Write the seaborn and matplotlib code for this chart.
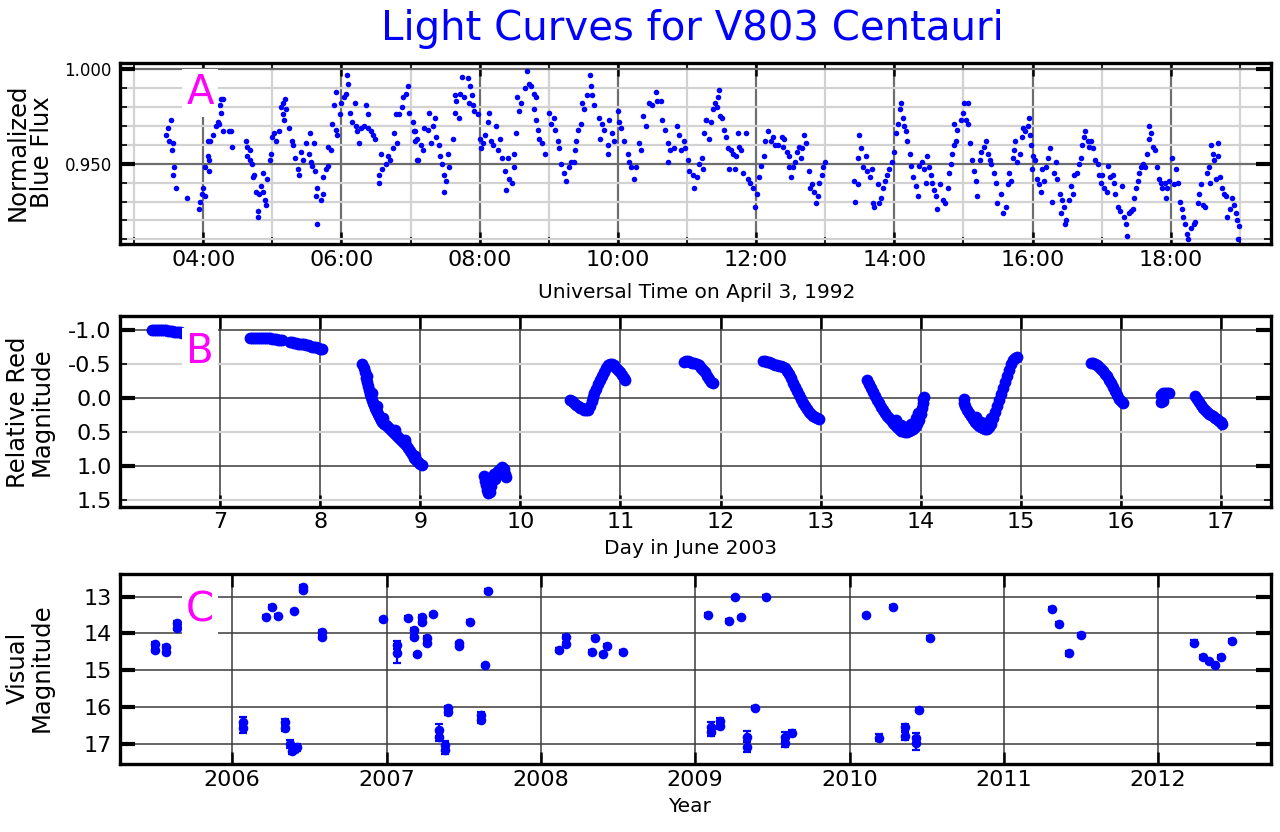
import matplotlib
matplotlib.use("Agg")
import matplotlib.pyplot as plt
from matplotlib.ticker import MultipleLocator, FixedLocator, FuncFormatter, FormatStrFormatter
import pandas as pd
import seaborn as sns

# ---------------- data ----------------
# A: normalized blue flux vs universal time (hours) on April 3, 1992
blue_hours = [
    3.535, 3.487, 3.46, 3.51, 3.56, 3.545, 3.58, 3.57, 3.60, 3.77, 3.935, 3.96, 3.98, 3.99, 4.02, 4.03,
    4.065, 4.09, 4.09, 4.065, 4.10, 4.14, 4.19, 4.21, 4.16, 4.24, 4.26, 4.29, 4.26, 4.23, 4.29, 4.37,
    4.40, 4.41, 4.62, 4.64, 4.67, 4.64, 4.68, 4.71, 4.74, 4.72, 4.76, 4.80, 4.79, 4.79, 4.84, 4.86,
    4.87, 4.89, 4.91, 4.92, 4.96, 4.98, 5.00, 5.03, 5.05, 5.10, 5.12, 5.15, 5.19, 5.16, 5.17, 5.20,
    5.24, 5.28, 5.30, 5.33, 5.37, 5.39, 5.41, 5.44, 5.49, 5.54, 5.53, 5.56, 5.58, 5.61, 5.62, 5.63,
    5.65, 5.64, 5.70, 5.73, 5.74, 5.77, 5.80, 5.81, 5.85, 5.87, 5.92, 5.94, 5.89, 5.92, 5.98, 6.00,
    6.03, 6.07, 6.09, 6.08, 6.12, 6.15, 6.19, 6.21, 6.23, 6.26, 6.28, 6.33, 6.36, 6.38, 6.39, 6.43,
    6.45, 6.49, 6.57, 6.54, 6.55, 6.59, 6.64, 6.67, 6.70, 6.74, 6.76, 6.79, 6.81, 6.83, 6.88, 6.89,
    6.96, 6.93, 6.98, 7.03, 7.05, 7.07, 7.09,
    7.06, 7.09, 7.11, 7.15, 7.18, 7.20, 7.25, 7.26, 7.30, 7.32, 7.35, 7.37, 7.41, 7.43, 7.45, 7.48,
    7.51, 7.48, 7.54, 7.56, 7.61, 7.64, 7.66, 7.64, 7.70, 7.71, 7.75, 7.78, 7.83, 7.84, 7.86, 7.89,
    7.91, 7.92, 7.97, 8.01, 8.02, 8.05, 8.08, 8.12, 8.13, 8.16, 8.20, 8.23, 8.26, 8.30, 8.33, 8.37,
    8.41, 8.38, 8.43, 8.47, 8.50, 8.50, 8.52, 8.54, 8.57, 8.60, 8.65, 8.69, 8.71, 8.74, 8.78, 8.81,
    8.79, 8.82, 8.84, 8.86, 8.90, 8.94, 9.01, 9.03, 9.07, 9.09, 9.13, 9.15, 9.18, 9.22, 9.25, 9.29,
    9.32, 9.36, 9.38, 9.39, 9.42, 9.46, 9.48, 9.51, 9.55, 9.59, 9.61, 9.63, 9.66, 9.73, 9.74, 9.77,
    9.80, 9.85, 9.85, 9.87, 9.92, 9.95, 10.00, 10.01, 10.05, 10.09, 10.14, 10.16, 10.19, 10.24, 10.26, 10.30,
    10.33, 10.36, 10.40, 10.45, 10.50, 10.55, 10.57, 10.62, 10.64, 10.68, 10.72, 10.72, 10.76, 10.81, 10.86, 10.89,
    10.91, 10.96, 10.97, 11.01, 11.03, 11.08, 11.10, 11.14, 11.17, 11.22, 11.25, 11.27,
    11.23, 11.28, 11.32, 11.35, 11.37, 11.40, 11.43, 11.45, 11.46, 11.48, 11.51, 11.53, 11.56, 11.59, 11.61, 11.64,
    11.66, 11.69, 11.71, 11.74, 11.75, 11.78, 11.81, 11.85, 11.88, 11.91, 11.95, 11.98, 12.01, 12.04, 12.07, 12.11,
    12.13, 12.17, 12.22, 12.24, 12.27, 12.31, 12.38, 12.39, 12.41, 12.44, 12.48, 12.47, 12.51, 12.53, 12.56, 12.59,
    12.62, 12.65, 12.67, 12.70, 12.72, 12.76, 12.78, 12.81, 12.84, 12.87, 12.89, 12.91, 12.95, 12.97, 12.99,
    13.42, 13.43, 13.47, 13.48, 13.49, 13.52, 13.54, 13.59, 13.61, 13.65, 13.68, 13.69, 13.71, 13.76, 13.78, 13.81,
    13.83, 13.86, 13.89, 13.93, 13.97, 14.00, 14.02, 14.06, 14.08, 14.09, 14.12, 14.14, 14.17, 14.19, 14.22, 14.24,
    14.27, 14.31, 14.34, 14.36, 14.40, 14.43, 14.46, 14.47, 14.50, 14.53, 14.55, 14.58, 14.60, 14.62, 14.66, 14.70,
    14.73, 14.77, 14.79, 14.82, 14.83, 14.86, 14.89, 14.86, 14.91, 14.96, 14.99, 15.01, 15.06, 15.04, 15.07, 15.10,
    15.13, 15.15, 15.18, 15.20, 15.24, 15.26, 15.30, 15.32, 15.35, 15.38, 15.40, 15.44, 15.47, 15.49,
    15.54, 15.57, 15.61, 15.64, 15.66, 15.69, 15.71, 15.73, 15.75, 15.78, 15.82, 15.85, 15.86, 15.89, 15.93, 15.95,
    15.97, 15.98, 16.00, 15.99, 16.04, 16.07, 16.10, 16.12, 16.14, 16.17, 16.20, 16.23, 16.25, 16.28, 16.31, 16.34,
    16.36, 16.39, 16.41, 16.43, 16.46, 16.47, 16.49, 16.52, 16.55, 16.58, 16.60, 16.64, 16.67, 16.70, 16.72, 16.75,
    16.76, 16.80, 16.82, 16.84, 16.88, 16.91, 16.94, 16.96, 16.99, 17.00, 17.04, 17.07, 17.09, 17.12, 17.16, 17.18,
    17.20, 17.23, 17.26, 17.29, 17.33, 17.35, 17.36, 17.40, 17.42, 17.45, 17.47, 17.50, 17.52, 17.54, 17.57, 17.60,
    17.63, 17.65, 17.68, 17.69, 17.72, 17.74, 17.77, 17.80, 17.83, 17.86, 17.88, 17.91, 17.93, 17.95, 17.98, 18.02,
    18.05, 18.08, 18.11, 18.13, 18.16, 18.18, 18.21, 18.23, 18.25, 18.29, 18.33, 18.35, 18.39, 18.41, 18.44, 18.46,
    18.50, 18.52, 18.55, 18.57, 18.58, 18.61, 18.63, 18.65, 18.68, 18.69, 18.71, 18.74, 18.77, 18.80, 18.82, 18.86,
    18.89, 18.91, 18.94, 18.96, 18.99, 18.97,
]
blue_flux = [
    0.973, 0.969, 0.965, 0.962, 0.961, 0.957, 0.948, 0.944, 0.937, 0.932, 0.926, 0.930, 0.934, 0.937, 0.933, 0.948,
    0.954, 0.952, 0.946, 0.962, 0.962, 0.965, 0.970, 0.972, 0.977, 0.981, 0.984, 0.984, 0.977, 0.971, 0.967, 0.967,
    0.967, 0.959, 0.962, 0.959, 0.957, 0.954, 0.952, 0.950, 0.944, 0.943, 0.935, 0.934, 0.925, 0.922, 0.938, 0.945,
    0.935, 0.931, 0.928, 0.942, 0.952, 0.955, 0.964, 0.966, 0.962, 0.967, 0.980, 0.982, 0.984, 0.976, 0.973, 0.979,
    0.969, 0.962, 0.960, 0.953, 0.947, 0.944, 0.956, 0.952, 0.961, 0.966, 0.955, 0.951, 0.949, 0.961, 0.946, 0.933,
    0.937, 0.918, 0.931, 0.934, 0.943, 0.947, 0.949, 0.959, 0.957, 0.971, 0.968, 0.965, 0.981, 0.988, 0.976, 0.982,
    0.985, 0.987, 0.992, 0.997, 0.977, 0.972, 0.982, 0.970, 0.967, 0.961, 0.969, 0.970, 0.981, 0.976, 0.969, 0.967,
    0.965, 0.963, 0.955, 0.944, 0.940, 0.947, 0.950, 0.954, 0.952, 0.958, 0.966, 0.976, 0.961, 0.976, 0.980, 0.985,
    0.991, 0.987, 0.977, 0.972, 0.967, 0.962, 0.952,
    0.967, 0.963, 0.952, 0.960, 0.957, 0.969, 0.968, 0.977, 0.961, 0.970, 0.974, 0.964, 0.960, 0.954, 0.950, 0.944,
    0.941, 0.935, 0.955, 0.948, 0.963, 0.986, 0.983, 0.977, 0.974, 0.987, 0.996, 0.985, 0.995, 0.982, 0.991, 0.986,
    0.981, 0.978, 0.976, 0.963, 0.958, 0.961, 0.965, 0.972, 0.977, 0.962, 0.960, 0.970, 0.957, 0.963, 0.953, 0.946,
    0.953, 0.936, 0.942, 0.940, 0.948, 0.955, 0.966, 0.985, 0.978, 0.982, 0.990, 0.999, 0.992, 0.991, 0.987, 0.985,
    0.979, 0.973, 0.968, 0.963, 0.961, 0.955, 0.977, 0.971, 0.974, 0.968, 0.962, 0.958, 0.950, 0.945, 0.941, 0.948,
    0.951, 0.951, 0.957, 0.962, 0.968, 0.971, 0.982, 0.979, 0.986, 0.997, 0.991, 0.986, 0.981, 0.974, 0.963, 0.971,
    0.968, 0.960, 0.955, 0.973, 0.966, 0.962, 0.978, 0.972, 0.969, 0.962, 0.955, 0.951, 0.948, 0.942, 0.948, 0.961,
    0.957, 0.975, 0.970, 0.982, 0.981, 0.988, 0.983, 0.983, 0.973, 0.968, 0.961, 0.951, 0.957, 0.958, 0.970, 0.965,
    0.957, 0.962, 0.958, 0.952, 0.946, 0.944, 0.937, 0.943, 0.950, 0.953, 0.966, 0.973,
    0.947, 0.973, 0.963, 0.972, 0.979, 0.982, 0.980, 0.985, 0.989, 0.975, 0.974, 0.968, 0.964, 0.958, 0.947, 0.957,
    0.955, 0.947, 0.954, 0.966, 0.959, 0.957, 0.945, 0.966, 0.942, 0.940, 0.937, 0.927, 0.934, 0.943, 0.949, 0.954,
    0.962, 0.967, 0.962, 0.964, 0.960, 0.960, 0.964, 0.959, 0.963, 0.956, 0.954, 0.948, 0.943, 0.948, 0.951, 0.956,
    0.959, 0.953, 0.958, 0.965, 0.961, 0.946, 0.937, 0.939, 0.935, 0.929, 0.933, 0.940, 0.944, 0.948, 0.951,
    0.941, 0.930, 0.939, 0.953, 0.965, 0.958, 0.948, 0.954, 0.946, 0.943, 0.947, 0.929, 0.927, 0.939, 0.929, 0.932,
    0.937, 0.941, 0.944, 0.947, 0.951, 0.956, 0.966, 0.971, 0.979, 0.982, 0.974, 0.970, 0.967, 0.962, 0.955, 0.949,
    0.943, 0.938, 0.933, 0.949, 0.951, 0.947, 0.940, 0.954, 0.948, 0.944, 0.940, 0.936, 0.933, 0.926, 0.939, 0.931,
    0.929, 0.937, 0.945, 0.950, 0.955, 0.960, 0.962, 0.971, 0.968, 0.973, 0.977, 0.982, 0.982, 0.973, 0.971, 0.961,
    0.952, 0.946, 0.941, 0.933, 0.952, 0.956, 0.959, 0.962, 0.955, 0.952, 0.950, 0.945, 0.940, 0.929,
    0.934, 0.924, 0.927, 0.939, 0.945, 0.941, 0.953, 0.957, 0.962, 0.951, 0.955, 0.964, 0.969, 0.967, 0.970, 0.974,
    0.965, 0.960, 0.954, 0.947, 0.952, 0.942, 0.939, 0.935, 0.947, 0.941, 0.948, 0.953, 0.958, 0.930, 0.945, 0.951,
    0.942, 0.934, 0.924, 0.931, 0.927, 0.918, 0.920, 0.931, 0.938, 0.934, 0.944, 0.945, 0.950, 0.953, 0.960, 0.964,
    0.967, 0.962, 0.959, 0.962, 0.958, 0.952, 0.950, 0.944, 0.940, 0.944, 0.937, 0.935, 0.949, 0.943, 0.944, 0.940,
    0.934, 0.927, 0.925, 0.938, 0.922, 0.918, 0.912, 0.924, 0.925, 0.926, 0.932, 0.937, 0.941, 0.945, 0.948, 0.950,
    0.948, 0.955, 0.963, 0.970, 0.966, 0.959, 0.957, 0.948, 0.942, 0.940, 0.937, 0.940, 0.932, 0.937, 0.941, 0.953,
    0.939, 0.947, 0.940, 0.930, 0.926, 0.922, 0.918, 0.913, 0.910, 0.916, 0.918, 0.919, 0.929, 0.934, 0.939, 0.928,
    0.927, 0.945, 0.948, 0.940, 0.960, 0.955, 0.952, 0.942, 0.961, 0.954, 0.943, 0.937, 0.934, 0.933, 0.922, 0.926,
    0.932, 0.928, 0.924, 0.920, 0.917, 0.910,
]

# B: relative red magnitude vs day in June 2003
red_day = [
    6.32, 6.34, 6.36, 6.38, 6.40, 6.42, 6.44, 6.46, 6.48, 6.50, 6.52, 6.54, 6.56, 6.58, 6.60, 6.62,
    7.30, 7.32, 7.34, 7.36, 7.38, 7.40, 7.42, 7.44, 7.46, 7.48, 7.50, 7.52, 7.54, 7.56, 7.58, 7.60, 7.62,
    7.70, 7.72, 7.74, 7.76, 7.78, 7.80, 7.82, 7.84, 7.86, 7.88, 7.90, 7.92, 7.94, 7.96, 7.98, 8.00, 8.02,
    8.42, 8.44, 8.45, 8.46, 8.47, 8.48, 8.49, 8.50, 8.51, 8.52, 8.53, 8.54, 8.55, 8.56, 8.57, 8.58,
    8.59, 8.60, 8.61, 8.62, 8.64, 8.66, 8.68, 8.70, 8.72, 8.74, 8.76, 8.78, 8.80, 8.82, 8.84, 8.86,
    8.88, 8.90, 8.92, 8.94, 8.96, 8.98, 9.00, 9.02, 8.47, 8.52, 8.57, 8.63, 8.75, 8.85, 8.95,
    9.64, 9.65, 9.66, 9.67, 9.68, 9.70, 9.71, 9.72, 9.73, 9.74, 9.76, 9.78, 9.80, 9.82, 9.84, 9.85,
    9.86, 9.83, 9.75, 9.69,
    10.50, 10.52, 10.54, 10.56, 10.58, 10.60, 10.62, 10.64, 10.66, 10.68, 10.70, 10.72, 10.73, 10.74, 10.76, 10.78,
    10.80, 10.82, 10.84, 10.86, 10.88, 10.90, 10.92, 10.94, 10.96, 10.98, 11.00, 11.02, 11.04, 11.05,
    11.64, 11.66, 11.68, 11.70, 11.72, 11.74, 11.76, 11.78, 11.80, 11.82, 11.84, 11.86, 11.88, 11.90, 11.92,
    12.42, 12.44, 12.46, 12.48, 12.50, 12.52, 12.54, 12.56, 12.58, 12.60, 12.62, 12.64, 12.66, 12.68, 12.70, 12.72,
    12.74, 12.76, 12.78, 12.80, 12.82, 12.84, 12.86, 12.88, 12.90, 12.92, 12.94, 12.96, 12.98,
    13.46, 13.48, 13.50, 13.52, 13.54, 13.56, 13.58, 13.60, 13.62, 13.64, 13.66, 13.68, 13.70, 13.72, 13.74, 13.76,
    13.78, 13.80, 13.82, 13.84, 13.86, 13.88, 13.90, 13.92, 13.94, 13.96, 13.98, 14.00, 14.01, 14.02, 14.02, 14.03,
    13.80, 13.85, 13.90, 13.95, 13.75, 13.97,
    14.43, 14.43, 14.44, 14.46, 14.48, 14.50, 14.52, 14.54, 14.56, 14.58, 14.60, 14.62, 14.64, 14.66, 14.68, 14.70,
    14.72, 14.74, 14.76, 14.78, 14.80, 14.82, 14.84, 14.86, 14.88, 14.90, 14.92, 14.94, 14.96,
    14.60, 14.65, 14.55, 14.70,
    15.70, 15.72, 15.74, 15.76, 15.78, 15.80, 15.82, 15.84, 15.86, 15.88, 15.90, 15.92, 15.94, 15.96, 15.98, 16.00, 16.02,
    16.40, 16.42, 16.44, 16.46, 16.48, 16.40, 16.42,
    16.74, 16.76, 16.78, 16.80, 16.82, 16.84, 16.86, 16.88, 16.90, 16.92, 16.94, 16.96, 16.98, 17.00, 17.01,
]
red_mag = [
    -1.01, -1.01, -1.01, -1.01, -1.01, -1.00, -1.00, -1.00, -0.99, -0.99, -0.99, -0.98, -0.98, -0.97, -0.97, -0.96,
    -0.88, -0.88, -0.89, -0.89, -0.89, -0.89, -0.89, -0.89, -0.88, -0.88, -0.88, -0.87, -0.87, -0.87, -0.86, -0.86, -0.86,
    -0.82, -0.82, -0.81, -0.81, -0.80, -0.80, -0.79, -0.79, -0.78, -0.78, -0.77, -0.76, -0.76, -0.75, -0.74, -0.73, -0.72,
    -0.50, -0.45, -0.38, -0.30, -0.24, -0.18, -0.12, -0.06, -0.01, 0.03, 0.07, 0.11, 0.14, 0.17, 0.20, 0.23,
    0.26, 0.29, 0.32, 0.35, 0.38, 0.40, 0.42, 0.45, 0.48, 0.51, 0.54, 0.57, 0.60, 0.63, 0.66, 0.69,
    0.73, 0.78, 0.83, 0.88, 0.92, 0.95, 0.98, 0.99, -0.32, -0.08, 0.12, 0.30, 0.47, 0.62, 0.85,
    1.15, 1.22, 1.28, 1.35, 1.40, 1.38, 1.30, 1.22, 1.18, 1.12, 1.10, 1.08, 1.04, 1.02, 1.05, 1.12,
    1.17, 1.10, 1.20, 1.25,
    0.03, 0.05, 0.08, 0.10, 0.12, 0.14, 0.15, 0.17, 0.18, 0.17, 0.12, 0.05, -0.02, -0.08, -0.14, -0.20,
    -0.26, -0.32, -0.38, -0.44, -0.49, -0.50, -0.50, -0.48, -0.45, -0.42, -0.38, -0.34, -0.30, -0.27,
    -0.53, -0.54, -0.54, -0.53, -0.52, -0.51, -0.50, -0.48, -0.45, -0.42, -0.38, -0.33, -0.28, -0.24, -0.22,
    -0.54, -0.54, -0.53, -0.53, -0.52, -0.50, -0.49, -0.48, -0.47, -0.47, -0.46, -0.44, -0.40, -0.35, -0.29, -0.22,
    -0.16, -0.10, -0.04, 0.02, 0.07, 0.12, 0.16, 0.20, 0.23, 0.26, 0.28, 0.30, 0.31,
    -0.26, -0.21, -0.15, -0.09, -0.03, 0.03, 0.08, 0.13, 0.18, 0.22, 0.26, 0.30, 0.33, 0.37, 0.40, 0.43,
    0.46, 0.48, 0.49, 0.50, 0.50, 0.49, 0.47, 0.45, 0.42, 0.38, 0.32, 0.24, 0.15, 0.08, 0.02, -0.02,
    0.40, 0.42, 0.38, 0.30, 0.33, 0.22,
    0.02, 0.07, 0.12, 0.17, 0.22, 0.27, 0.31, 0.35, 0.38, 0.41, 0.43, 0.44, 0.45, 0.45, 0.43, 0.38,
    0.30, 0.21, 0.12, 0.03, -0.06, -0.15, -0.24, -0.33, -0.42, -0.50, -0.56, -0.59, -0.60,
    0.35, 0.37, 0.28, 0.30,
    -0.51, -0.51, -0.50, -0.48, -0.46, -0.43, -0.40, -0.36, -0.32, -0.27, -0.22, -0.16, -0.10, -0.04, 0.01, 0.05, 0.07,
    -0.05, -0.08, -0.08, -0.08, -0.07, 0.06, 0.04,
    -0.03, 0.02, 0.06, 0.10, 0.14, 0.17, 0.20, 0.23, 0.25, 0.27, 0.29, 0.31, 0.34, 0.36, 0.38,
]

# C: visual magnitude vs year, with uncertainties
vis_year = [
    2005.50, 2005.50, 2005.57, 2005.57, 2005.64, 2005.64, 2006.07, 2006.07, 2006.22, 2006.26, 2006.30,
    2006.34, 2006.34, 2006.375, 2006.39, 2006.41, 2006.42, 2006.40, 2006.46, 2006.46, 2006.58, 2006.58,
    2006.98, 2007.07, 2007.07, 2007.14, 2007.18, 2007.18, 2007.20, 2007.23, 2007.23, 2007.26, 2007.26,
    2007.30, 2007.34, 2007.34, 2007.38, 2007.38, 2007.40, 2007.40, 2007.47, 2007.47, 2007.54, 2007.61,
    2007.61, 2007.64, 2007.66, 2008.12, 2008.16, 2008.16, 2008.33, 2008.35, 2008.40, 2008.43, 2008.53,
    2009.08, 2009.10, 2009.10, 2009.16, 2009.16, 2009.22, 2009.26, 2009.30, 2009.335, 2009.335, 2009.39,
    2009.46, 2009.58, 2009.58, 2009.625, 2010.11, 2010.19, 2010.28, 2010.36, 2010.36, 2010.43, 2010.43,
    2010.45, 2010.52, 2011.31, 2011.355, 2011.42, 2011.50, 2012.23, 2012.29, 2012.33, 2012.37, 2012.41,
    2012.48,
]
vis_mag = [
    14.29, 14.45, 14.36, 14.49, 13.72, 13.84, 16.39, 16.57, 13.54, 13.29, 13.52,
    16.39, 16.57, 17.00, 17.18, 17.13, 17.09, 13.39, 12.73, 12.82, 13.95, 14.09,
    13.62, 14.31, 14.54, 13.57, 13.90, 14.09, 14.57, 13.54, 13.68, 14.13, 14.25,
    13.48, 16.62, 16.80, 17.03, 17.16, 16.03, 16.14, 14.27, 14.33, 13.68, 16.21,
    16.35, 14.86, 12.84, 14.45, 14.09, 14.29, 14.51, 14.11, 14.57, 14.33, 14.51,
    13.50, 16.53, 16.67, 16.38, 16.50, 13.66, 13.02, 13.56, 16.80, 17.07, 16.01,
    13.00, 16.80, 16.98, 16.71, 13.50, 16.83, 13.28, 16.55, 16.78, 16.85, 16.98,
    16.08, 14.13, 13.33, 13.75, 14.54, 14.04, 14.25, 14.63, 14.76, 14.86, 14.63,
    14.21,
]
vis_err = [
    0.06, 0.06, 0.06, 0.06, 0.06, 0.06, 0.12, 0.12, 0.05, 0.05, 0.05,
    0.08, 0.08, 0.12, 0.10, 0.10, 0.10, 0.04, 0.05, 0.05, 0.05, 0.05,
    0.05, 0.10, 0.25, 0.05, 0.05, 0.05, 0.05, 0.05, 0.05, 0.05, 0.05,
    0.04, 0.15, 0.12, 0.12, 0.12, 0.06, 0.06, 0.05, 0.05, 0.04, 0.08,
    0.08, 0.04, 0.05, 0.05, 0.06, 0.06, 0.05, 0.05, 0.05, 0.05, 0.05,
    0.05, 0.12, 0.10, 0.08, 0.08, 0.05, 0.04, 0.04, 0.15, 0.15, 0.05,
    0.05, 0.12, 0.10, 0.08, 0.04, 0.10, 0.04, 0.10, 0.10, 0.15, 0.18,
    0.06, 0.05, 0.04, 0.05, 0.06, 0.06, 0.06, 0.05, 0.05, 0.05, 0.05,
    0.06,
]

# ---------------- plotting ----------------
sns.set_theme(style="white")
plt.rcParams["font.family"] = ["DejaVu Sans"]
plt.rcParams["axes.unicode_minus"] = False
plt.rcParams["text.color"] = "black"
plt.rcParams["xtick.color"] = "black"
plt.rcParams["ytick.color"] = "black"
plt.rcParams["xtick.labelcolor"] = "black"
plt.rcParams["ytick.labelcolor"] = "black"

BLUE = "#0000ff"
DARK = "#6e6e6e"
LIGHT = "#d2d2d2"
TICK_FS = 16

fig = plt.figure(figsize=(12.8, 8.32), dpi=100)
ax_a = fig.add_axes([120 / 1280, 1 - 244.3 / 832, 1151 / 1280, 181.6 / 832])
ax_b = fig.add_axes([120 / 1280, 1 - 506.7 / 832, 1151 / 1280, 190.7 / 832])
ax_c = fig.add_axes([120 / 1280, 1 - 764 / 832, 1151 / 1280, 189.7 / 832])


def frame(ax):
    for sp in ax.spines.values():
        sp.set_linewidth(2.4)
        sp.set_color("black")
    ax.tick_params(axis="y", which="major", direction="in", length=11, width=3, left=True, right=True,
                   labelsize=TICK_FS, color="black", labelcolor="black", pad=6)
    ax.tick_params(axis="x", which="major", direction="in", length=9, width=1.8, top=True, bottom=True,
                   labelsize=TICK_FS, color="black", labelcolor="black", pad=4)
    ax.tick_params(which="minor", direction="in", length=5, width=1.2, top=True, right=True,
                   bottom=True, left=True, color="black")
    ax.set_axisbelow(True)
    ax.set_xlabel("")
    ax.set_ylabel("")


def panel_letter(ax, letter, y):
    ax.text(0.0695, y, letter, transform=ax.transAxes, color="#ff00ff", fontsize=29,
            ha="center", va="center", zorder=5,
            bbox=dict(facecolor="white", edgecolor="none", pad=3))


# A
df_a = pd.DataFrame({"hour": blue_hours, "flux": blue_flux})
sns.scatterplot(data=df_a, x="hour", y="flux", ax=ax_a, color=BLUE, s=16, linewidth=0, zorder=3)
ax_a.set_xlim(2.796, 19.45)
ax_a.set_ylim(0.9074, 1.0033)
ax_a.xaxis.set_major_locator(MultipleLocator(2))
ax_a.xaxis.set_minor_locator(MultipleLocator(1))
ax_a.xaxis.set_major_formatter(FuncFormatter(lambda v, p: f"{int(round(v)):02d}:00"))
ax_a.yaxis.set_major_locator(MultipleLocator(0.05))
ax_a.yaxis.set_minor_locator(MultipleLocator(0.01))
ax_a.yaxis.set_major_formatter(FormatStrFormatter("%.3f"))
ax_a.grid(which="major", color=DARK, linewidth=1.6)
ax_a.grid(which="minor", color=LIGHT, linewidth=1.6)
frame(ax_a)
ax_a.tick_params(axis="y", which="major", labelsize=12)
panel_letter(ax_a, "A", 0.833)

# B
df_b = pd.DataFrame({"day": red_day, "mag": red_mag})
sns.scatterplot(data=df_b, x="day", y="mag", ax=ax_b, color=BLUE, s=72, marker="o", linewidth=0, zorder=3)
ax_b.set_xlim(6.0, 17.5)
ax_b.set_ylim(1.603, -1.21)
ax_b.xaxis.set_major_locator(FixedLocator(list(range(7, 18))))
ax_b.yaxis.set_major_locator(MultipleLocator(1.0))
ax_b.yaxis.set_minor_locator(FixedLocator([-0.5, 0.5, 1.5]))
ax_b.yaxis.set_major_formatter(FormatStrFormatter("%.1f"))
ax_b.yaxis.set_minor_formatter(FormatStrFormatter("%.1f"))
ax_b.grid(which="major", color="#3a3a3a", linewidth=1.1)
ax_b.grid(which="minor", axis="y", color=LIGHT, linewidth=1.6)
frame(ax_b)
ax_b.tick_params(axis="y", which="minor", labelsize=TICK_FS, labelcolor="black", pad=6)
panel_letter(ax_b, "B", 0.811)

# C
df_c = pd.DataFrame({"year": vis_year, "mag": vis_mag, "err": vis_err})
ax_c.errorbar(df_c["year"], df_c["mag"], yerr=df_c["err"], fmt="none", ecolor=BLUE,
              elinewidth=1.6, capsize=3, capthick=1.6, zorder=3)
sns.scatterplot(data=df_c, x="year", y="mag", ax=ax_c, color=BLUE, s=48, linewidth=0, zorder=4)
ax_c.set_xlim(2005.273, 2012.731)
ax_c.set_ylim(17.543, 12.394)
ax_c.xaxis.set_major_locator(MultipleLocator(1))
ax_c.yaxis.set_major_locator(MultipleLocator(1))
ax_c.xaxis.set_major_formatter(FormatStrFormatter("%d"))
ax_c.yaxis.set_major_formatter(FormatStrFormatter("%d"))
ax_c.grid(which="major", color="#3a3a3a", linewidth=1.1)
frame(ax_c)
panel_letter(ax_c, "C", 0.81)

# titles and axis labels
fig.text(692 / 1280, 1 - 29 / 832, "Light Curves for V803 Centauri", color=BLUE, fontsize=29,
         ha="center", va="center")
lab = dict(fontsize=17.5, rotation=90, ha="center", va="center", linespacing=1.0, color="black")
fig.text(30 / 1280, 1 - 152 / 832, "Normalized\nBlue Flux", **lab)
fig.text(30 / 1280, 1 - 412 / 832, "Relative Red\nMagnitude", **lab)
fig.text(30 / 1280, 1 - 668 / 832, "Visual\nMagnitude", **lab)
fig.text(697 / 1280, 1 - 292 / 832, "Universal Time on April 3, 1992", fontsize=14.5, ha="center", va="center")
fig.text(690 / 1280, 1 - 548 / 832, "Day in June 2003", fontsize=14.5, ha="center", va="center")
fig.text(689 / 1280, 1 - 807 / 832, "Year", fontsize=14.5, ha="center", va="center")

fig.savefig("out.png", dpi=100)
